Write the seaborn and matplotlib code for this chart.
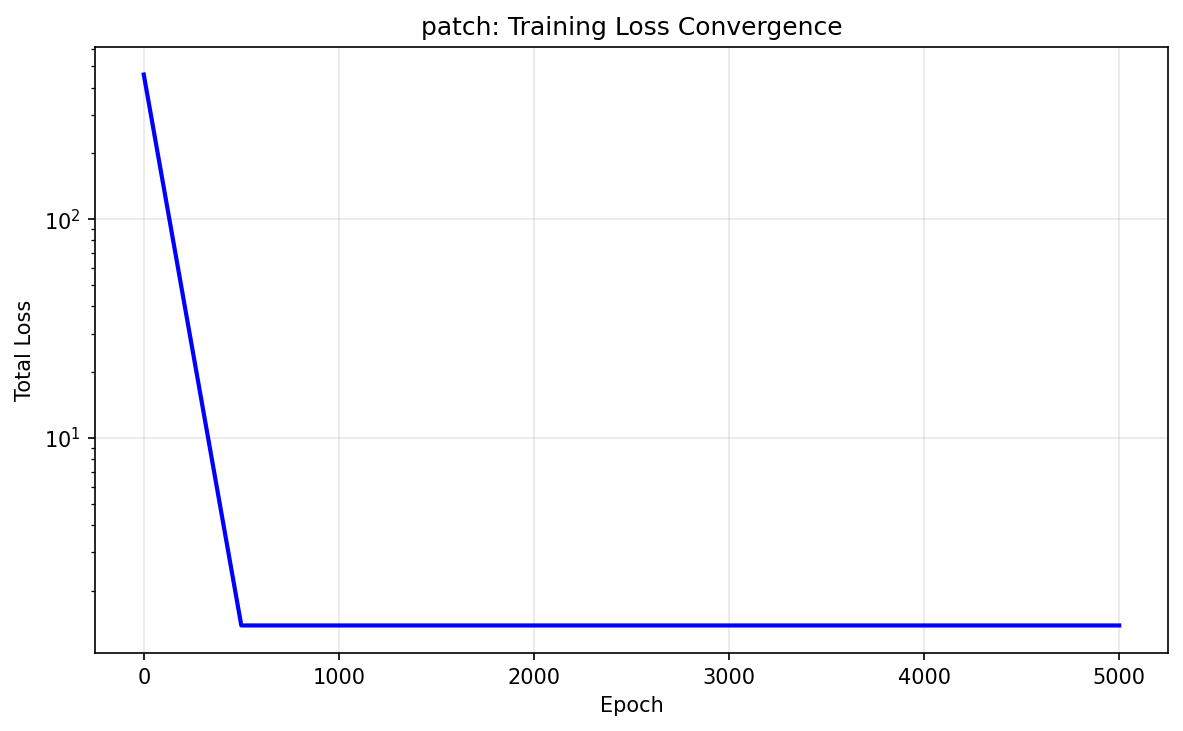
import matplotlib
matplotlib.use("Agg")
import matplotlib.pyplot as plt
import seaborn as sns
import pandas as pd

epochs = [0, 500, 1000, 1500, 2000, 2500, 3000, 3500, 4000, 4500, 5000]
total_loss = [459.0, 1.39, 1.39, 1.39, 1.39, 1.39, 1.39, 1.39, 1.39, 1.39, 1.39]

df = pd.DataFrame({"Epoch": epochs, "Total Loss": total_loss})

fig, ax = plt.subplots(figsize=(1183/150, 731/150), dpi=150)
fig.subplots_adjust(left=0.0803, right=0.9873, top=0.9357, bottom=0.1067)
sns.lineplot(data=df, x="Epoch", y="Total Loss", ax=ax, color="blue", linewidth=2)
ax.set_yscale("log")
ax.grid(True, alpha=0.3)
ax.set_title("patch: Training Loss Convergence")
ax.set_xlabel("Epoch")
ax.set_ylabel("Total Loss")
fig.savefig("out.png", dpi=150)
